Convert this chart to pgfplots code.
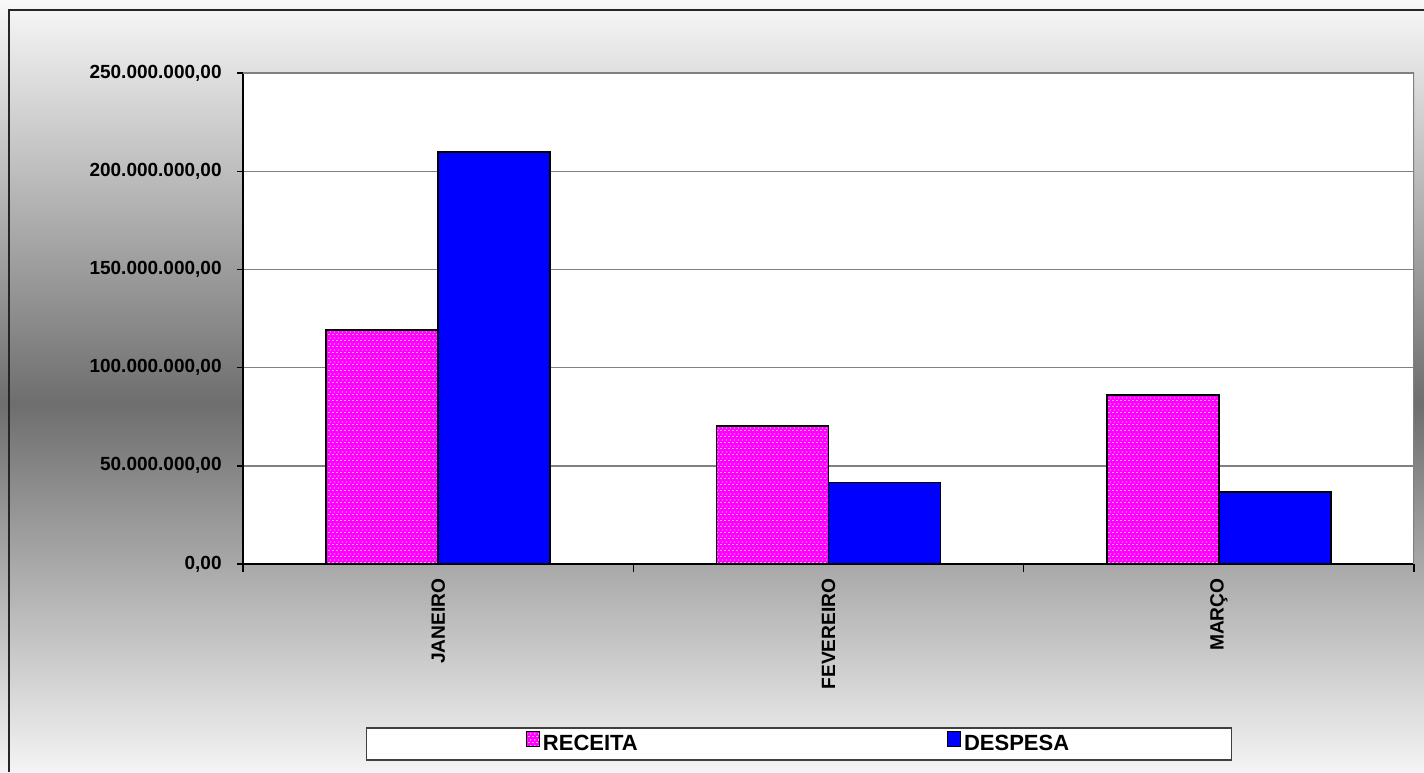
\documentclass[border=0pt]{standalone}
\usepackage{fontspec}
\setmainfont{Liberation Sans}
\usepackage{pgfplots}
\pgfplotsset{compat=1.18}
\usetikzlibrary{patterns.meta}
\definecolor{bgtop}{HTML}{F8F8F8}
\definecolor{bgmid}{HTML}{6E6E6E}
\definecolor{bgbot}{HTML}{F4F4F4}
\definecolor{gridgray}{HTML}{808080}
\definecolor{rec}{HTML}{FF00FF}
\definecolor{desp}{HTML}{0000FF}
\pgfdeclareverticalshading{bgshade}{100bp}{color(0bp)=(bgbot); color(25bp)=(bgbot); color(48.85bp)=(bgmid); color(75bp)=(bgtop); color(100bp)=(bgtop)}
\tikzdeclarepattern{
  name=pinkdots,
  type=uncolored,
  bounding box={(0pt,0pt) and (2pt,3pt)},
  tile size={(2pt,3pt)},
  code={\fill (0.2pt,0pt) rectangle (1pt,0.5pt); \fill (1.2pt,1.5pt) rectangle (2pt,2pt);}
}
\begin{document}
\begin{tikzpicture}
\shade[shading=bgshade] (0,0) rectangle (712pt,386pt);
\draw[line width=0.8pt, black!85] (4.5pt,0pt) -- (4.5pt,381pt) -- (712pt,381pt);
\begin{axis}[
  at={(121.5pt,104pt)}, anchor=south west,
  scale only axis, width=585.5pt, height=245.5pt,
  xmin=-0.5, xmax=2.5, ymin=0, ymax=250000000,
  axis background/.style={fill=white},
  axis x line*=bottom, axis y line*=left,
  axis line style={black, line width=0.7pt, -},
  ybar=0pt, bar width=56pt,
  legend image code/.code={\draw[#1, line width=0.6pt] (0pt,-1pt) rectangle (6.5pt,6.5pt);},
  xtick={0,1,2}, xticklabels={JANEIRO,FEVEREIRO,MARÇO},
  major x tick style={draw=none},
  minor xtick={-0.5,0.5,1.5,2.5},
  minor tick length=4pt,
  minor x tick style={black, line width=0.7pt},
  ytick={0,50000000,100000000,150000000,200000000,250000000},
  yticklabels={{0,00},{50.000.000,00},{100.000.000,00},{150.000.000,00},{200.000.000,00},{250.000.000,00}},
  scaled y ticks=false,
  major tick length=3pt,
  tick align=outside,
  ytick style={black, line width=0.7pt},
  ymajorgrids, major grid style={gridgray, line width=0.7pt},
  yticklabel style={font=\bfseries\fontsize{9.5}{11}\selectfont, inner xsep=0pt, xshift=-7.5pt},
  xticklabel style={font=\bfseries\fontsize{9.6}{11}\selectfont, rotate=90, anchor=east, inner xsep=4pt},
  legend style={at={(0.4748,-0.3666)}, anchor=center, draw=black!75, line width=0.7pt, fill=white,
    font=\bfseries\fontsize{11}{13}\selectfont, inner xsep=79.5pt, inner ysep=1.5pt,
    nodes={inner sep=1.5pt},
    /tikz/every even column/.append style={column sep=153pt}},
  legend columns=2,
]
\addplot[fill=rec, draw=black, line width=0.8pt,
  postaction={pattern={pinkdots}, pattern color=white}]
  coordinates {(0,119200000) (1,70300000) (2,86200000)};
\addplot[fill=desp, draw=black, line width=0.8pt]
  coordinates {(0,209800000) (1,41600000) (2,36700000)};
\legend{RECEITA,DESPESA}
\draw[gridgray, line width=0.7pt] (rel axis cs:0,1) -- (rel axis cs:1,1) -- (rel axis cs:1,0);
\end{axis}
\pgfresetboundingbox
\path (0,0) rectangle (712pt,386pt);
\end{tikzpicture}
\end{document}
